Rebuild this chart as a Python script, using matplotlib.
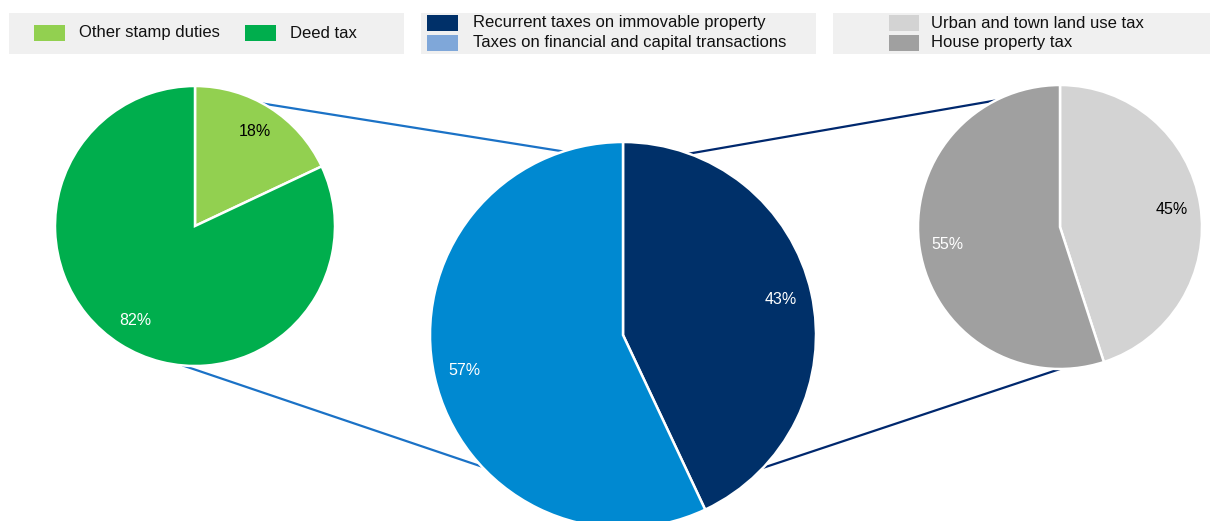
import matplotlib
matplotlib.use('Agg')
import matplotlib.pyplot as plt
import numpy as np
from matplotlib.patches import Rectangle, ConnectionPatch

plt.rcParams['font.family'] = ['Liberation Sans', 'DejaVu Sans']

# shares in percent
transfer_labels = ['Other stamp duties', 'Deed tax']
transfer_values = [18, 82]
total_labels = ['Recurrent taxes on immovable property', 'Taxes on financial and capital transactions']
total_values = [43, 57]
recurrent_labels = ['Urban and town land use tax', 'House property tax']
recurrent_values = [45, 55]

transfer_colors = ['#92D050', '#00AE4D']
total_colors = ['#003069', '#0089D1']
total_legend_colors = ['#003069', '#7FA7D9']
recurrent_colors = ['#D3D3D3', '#A0A0A0']

W, H = 1210, 521
fig = plt.figure(figsize=(W / 100, H / 100), dpi=100)


def pie_axes(cx, cy, r):
    # axes sized so that a unit pie fills a circle of radius r px around (cx, cy)
    ax = fig.add_axes([(cx - r) / W, (H - cy - r) / H, 2 * r / W, 2 * r / H])
    return ax


def draw_pie(ax, values, colors, txt_colors, pctdist):
    wedges, texts, autotexts = ax.pie(
        values, colors=colors, startangle=90, counterclock=False,
        autopct='%d%%', pctdistance=pctdist,
        wedgeprops=dict(edgecolor='white', linewidth=1.8),
        textprops=dict(fontsize=11.5))
    for t, c in zip(autotexts, txt_colors):
        t.set_color(c)
    ax.set_xlim(-1, 1)
    ax.set_ylim(-1, 1)
    ax.axis('off')
    return wedges


ax_l = pie_axes(195, 226, 140)
ax_m = pie_axes(623, 335, 193)
ax_r = pie_axes(1060, 227, 142)

draw_pie(ax_l, transfer_values, transfer_colors, ['black', 'white'], 0.8)
draw_pie(ax_m, total_values, total_colors, ['white', 'white'], 0.84)
draw_pie(ax_r, recurrent_values, recurrent_colors, ['black', 'white'], 0.8)


def pt(angle):
    a = np.deg2rad(angle)
    return (np.cos(a), np.sin(a))


# connector lines between the pies
links = [
    (ax_l, 61, ax_m, 108, '#1B72C6'),
    (ax_l, 265, ax_m, 223, '#1B72C6'),
    (ax_m, 70, ax_r, 117, '#00286E'),
    (ax_m, -43.5, ax_r, 270, '#00286E'),
]
for a1, ang1, a2, ang2, col in links:
    con = ConnectionPatch(xyA=pt(ang1), coordsA=a1.transData,
                          xyB=pt(ang2), coordsB=a2.transData,
                          color=col, linewidth=1.6, zorder=0)
    fig.add_artist(con)


# legend panels
def px_rect(x0, y0, x1, y1, color):
    fig.add_artist(Rectangle((x0 / W, (H - y1) / H), (x1 - x0) / W, (y1 - y0) / H,
                             transform=fig.transFigure, facecolor=color,
                             edgecolor='none', zorder=0))


def px_text(x, y, s):
    fig.text(x / W, (H - y) / H, s, ha='left', va='center', fontsize=12, color='#111111')


px_rect(9, 13, 404, 54, '#F0F0F0')
px_rect(421, 13, 816, 54, '#F0F0F0')
px_rect(833, 13, 1210, 54, '#F0F0F0')

# single-row legend for the left pie
px_rect(34, 25, 65, 41, transfer_colors[0])
px_text(79, 33, transfer_labels[0])
px_rect(245, 25, 276, 41, transfer_colors[1])
px_text(290, 33, transfer_labels[1])

# two-row legends for middle and right pies
for i, (lab, col) in enumerate(zip(total_labels, total_legend_colors)):
    y0 = 15 + 20 * i
    px_rect(427, y0, 458, y0 + 16, col)
    px_text(473, y0 + 8, lab)

for i, (lab, col) in enumerate(zip(recurrent_labels, recurrent_colors)):
    y0 = 15 + 20 * i
    px_rect(889, y0, 919, y0 + 16, col)
    px_text(931, y0 + 8, lab)

fig.savefig('out.png', dpi=100)
